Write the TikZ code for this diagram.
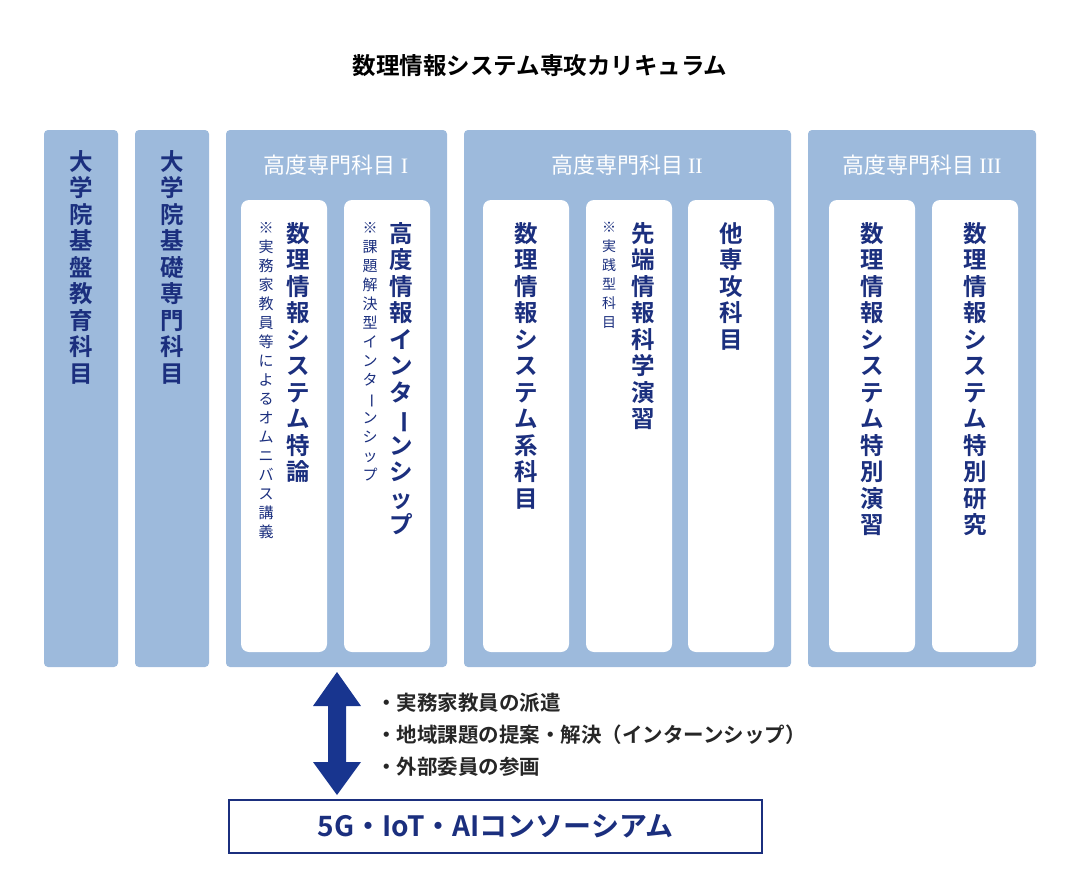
\documentclass[tikz,border=0pt]{standalone}
\usepackage{fontspec}
\setmainfont{Noto Sans CJK JP}
\newfontfamily\jpb{Noto Sans CJK JP Bold}
\newfontfamily\rmn{Liberation Serif}
\definecolor{colfill}{HTML}{9DBADC}
\definecolor{navy}{HTML}{1B2F7E}
\definecolor{arrowc}{HTML}{18358F}
\newcommand\tb{\rotatebox[origin=c]{-90}{ー}}
\tikzset{
  col/.style={fill=colfill,draw=none,rounded corners=4pt},
  inner/.style={fill=white,draw=none,rounded corners=8pt},
  vt/.style={anchor=north,align=center,inner sep=0,text=navy,font=\jpb\fontsize{23.5}{26.5}\selectfont},
  vn/.style={anchor=north,align=center,inner sep=0,text=navy,font=\fontsize{15}{19}\selectfont},
  hd/.style={text=white,font=\fontsize{22}{26}\selectfont,inner sep=0},
  bl/.style={anchor=west,font=\jpb\fontsize{20.5}{24}\selectfont,text=black!85,inner sep=0},
}
\begin{document}
\begin{tikzpicture}[x=1pt,y=-1pt]
\useasboundingbox (0,0) rectangle (1080,891);
\node[font=\jpb\fontsize{23.5}{26}\selectfont] (title) at (540,66) {数理情報システム専攻カリキュラム};
\fill[col] (44,130) rectangle (118,667);
\fill[col] (135,130) rectangle (209,667);
\fill[col] (226,130) rectangle (447,667);
\fill[col] (464,130) rectangle (791,667);
\fill[col] (808,130) rectangle (1036,667);
\node[vt] (c1) at (81,150) {大\\学\\院\\基\\盤\\教\\育\\科\\目};
\node[vt] (c2) at (172,150) {大\\学\\院\\基\\礎\\専\\門\\科\\目};
\node[hd] (h1) at (336,165) {高度専門科目 {\rmn I}};
\node[hd] (h2) at (627,165) {高度専門科目 {\rmn II}};
\node[hd] (h3) at (922,165) {高度専門科目 {\rmn III}};
\fill[inner] (241,200) rectangle (327,652);
\fill[inner] (344,200) rectangle (430,652);
\fill[inner] (483,200) rectangle (569,652);
\fill[inner] (586,200) rectangle (672,652);
\fill[inner] (688,200) rectangle (774,652);
\fill[inner] (829,200) rectangle (915,652);
\fill[inner] (932,200) rectangle (1018,652);
\node[vt] (t1) at (298,222) {数\\理\\情\\報\\シ\\ス\\テ\\ム\\特\\論};
\node[vn] (n1) at (266,222) {※\\実\\務\\家\\教\\員\\等\\に\\よ\\る\\オ\\ム\\ニ\\バ\\ス\\講\\義};
\node[vt] (t2) at (401,222) {高\\度\\情\\報\\イ\\ン\\タ\\\tb\\ン\\シ\\ッ\\プ};
\node[vn] (n2) at (370,222) {※\\課\\題\\解\\決\\型\\イ\\ン\\タ\\\tb\\ン\\シ\\ッ\\プ};
\node[vt] (t3) at (526,222) {数\\理\\情\\報\\シ\\ス\\テ\\ム\\系\\科\\目};
\node[vt] (t4) at (643,222) {先\\端\\情\\報\\科\\学\\演\\習};
\node[vn,font=\fontsize{14}{19}\selectfont] (n4) at (609,222) {※\\実\\践\\型\\科\\目};
\node[vt] (t5) at (731,222) {他\\専\\攻\\科\\目};
\node[vt] (t6) at (872,222) {数\\理\\情\\報\\シ\\ス\\テ\\ム\\特\\別\\演\\習};
\node[vt] (t7) at (975,222) {数\\理\\情\\報\\シ\\ス\\テ\\ム\\特\\別\\研\\究};
\fill[arrowc] (337,672) -- (361,706) -- (346,706) -- (346,762) -- (361,762) -- (337,795)
  -- (313,762) -- (328,762) -- (328,706) -- (313,706) -- cycle;
\node[bl] (b1) at (376,703) {・実務家教員の派遣};
\node[bl] (b2) at (376,735) {・地域課題の提案・解決（インターンシップ）};
\node[bl] (b3) at (376,767) {・外部委員の参画};
\node[draw=navy,line width=1.5pt,minimum width=533pt,minimum height=53pt,text=navy,font=\jpb\fontsize{28}{32}\selectfont] (cons) at (495.5,826.5) {5G・IoT・AIコンソーシアム};
\end{tikzpicture}
\end{document}
